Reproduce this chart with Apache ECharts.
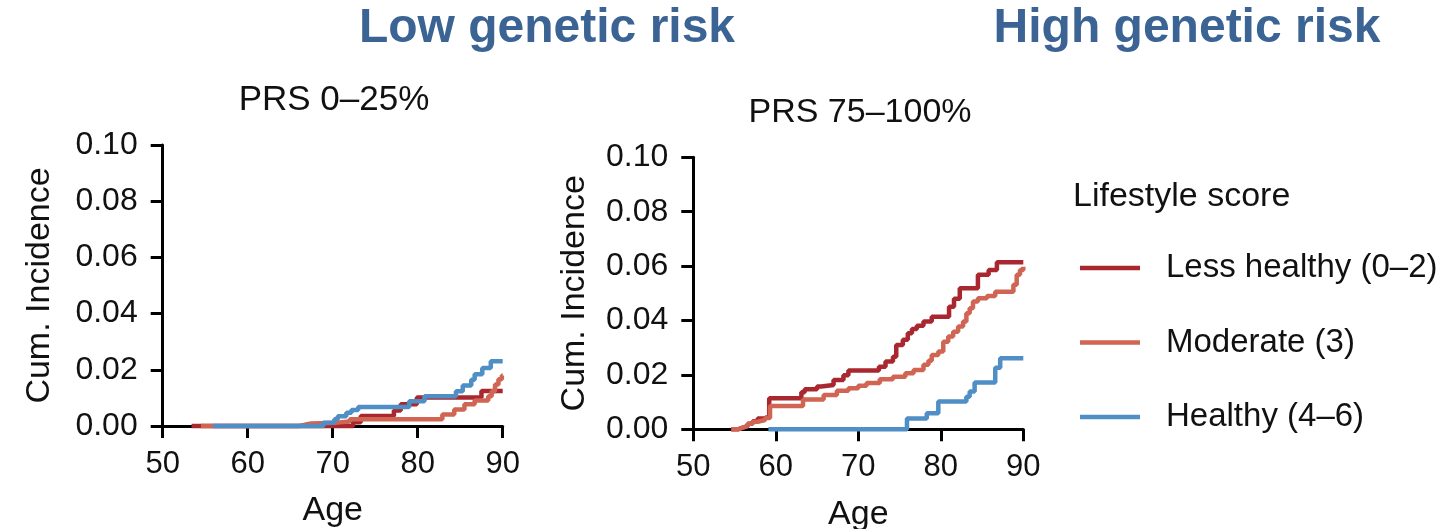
<!DOCTYPE html>
<html>
<head>
<meta charset="utf-8">
<script src="https://cdn.jsdelivr.net/npm/echarts@6/dist/echarts.min.js"></script>
<style>
  html, body { margin: 0; padding: 0; background: #ffffff; }
  #chart { width: 1450px; height: 529px; }
</style>
</head>
<body>
<div id="chart"></div>
<script>
// Lifestyle groups and panel labels
const groupNames = ['Less healthy (0–2)', 'Moderate (3)', 'Healthy (4–6)'];
const groupColors = ['#a9282f', '#cf6552', '#4f8fc6'];
const panelTitles = ['PRS 0–25%', 'PRS 75–100%'];
const riskTitles = ['Low genetic risk', 'High genetic risk'];
const legendTitle = 'Lifestyle score';

// Cumulative incidence by age, [age, incidence after the step]
// PRS 0–25%
const lowLessHealthy = [[53.4,0],[72.4,0.0013],[73.3,0.0036],[77.2,0.0055],[78.0,0.0077],[79.9,0.0101],[87.5,0.0125],[90,0.0125]];
const lowModerate = [[54.5,0],[66.0,0.0003],[66.5,0.0006],[67.0,0.0009],[67.5,0.0012],[70.5,0.0016],[72.0,0.0024],[82.9,0.0041],[84.3,0.0059],[85.5,0.0077],[86.7,0.0091],[88.3,0.0106],[88.7,0.0124],[89.1,0.0148],[89.5,0.0166],[89.9,0.0180],[90,0.0180]];
const lowHealthy = [[55.9,0],[68.9,0.0012],[70.2,0.0024],[70.6,0.0035],[71.6,0.0047],[72.2,0.0057],[73.0,0.0068],[79.0,0.0088],[80.8,0.0106],[84.5,0.0124],[85.3,0.0144],[86.3,0.0165],[86.7,0.0184],[87.6,0.0206],[88.6,0.0230],[90,0.0230]];
// PRS 75–100%
const highLessHealthy = [[54.6,0],[55.4,0.0006],[56.0,0.0012],[56.6,0.0020],[57.2,0.0030],[57.8,0.0040],[58.6,0.0047],[59.2,0.0114],[63.1,0.0136],[63.5,0.0147],[65.0,0.0157],[65.5,0.0163],[67.0,0.0181],[68.2,0.0199],[68.8,0.0216],[72.5,0.0230],[73.3,0.0249],[74.2,0.0267],[74.6,0.0310],[75.4,0.0329],[76.0,0.0353],[76.5,0.0369],[77.1,0.0381],[77.9,0.0396],[78.9,0.0414],[81.0,0.0451],[81.6,0.0480],[82.3,0.0519],[84.5,0.0568],[85.8,0.0586],[86.8,0.0614],[90,0.0614]];
const highModerate = [[54.6,0],[55.4,0.0006],[56.0,0.0012],[56.6,0.0020],[57.2,0.0028],[57.8,0.0034],[58.7,0.0042],[59.3,0.0086],[63.3,0.0110],[65.8,0.0126],[67.4,0.0142],[68.8,0.0151],[70.0,0.0160],[71.0,0.0170],[72.6,0.0184],[74.2,0.0193],[75.7,0.0206],[76.7,0.0218],[77.9,0.0237],[78.5,0.0252],[78.9,0.0273],[79.7,0.0286],[80.3,0.0322],[80.9,0.0341],[81.5,0.0359],[82.1,0.0378],[82.7,0.0396],[83.1,0.0427],[83.5,0.0445],[83.9,0.0470],[84.5,0.0482],[85.6,0.0490],[86.6,0.0506],[88.8,0.0531],[89.2,0.0568],[89.6,0.0586],[90,0.0598]];
const highHealthy = [[59.1,0],[75.9,0.0040],[78.3,0.0059],[79.7,0.0102],[83.1,0.0120],[83.5,0.0139],[84.1,0.0172],[86.6,0.0226],[87.2,0.0261],[90,0.0261]];

const panels = [
  [lowLessHealthy, lowModerate, lowHealthy],
  [highLessHealthy, highModerate, highHealthy]
];

const FONT = '"Liberation Sans", Arial, Helvetica, sans-serif';
const INK = '#111111';

function makeXAxis(gridIndex) {
  return {
    type: 'value', gridIndex: gridIndex,
    min: 50, max: 90, interval: 10,
    name: 'Age', nameLocation: 'middle', nameGap: 68,
    nameTextStyle: { fontSize: 34, color: INK, fontFamily: FONT },
    axisLine: { show: true, onZero: false, lineStyle: { color: '#000', width: 3 } },
    axisTick: { show: true, length: 12, lineStyle: { color: '#000', width: 3 } },
    axisLabel: { fontSize: 31, color: INK, margin: 23, fontFamily: FONT },
    splitLine: { show: false }
  };
}

function makeYAxis(gridIndex, gap) {
  return {
    type: 'value', gridIndex: gridIndex,
    min: 0, max: 0.1, interval: 0.02,
    name: 'Cum. Incidence', nameLocation: 'middle', nameGap: gap,
    nameTextStyle: { fontSize: 34, color: INK, fontFamily: FONT },
    axisLine: { show: true, lineStyle: { color: '#000', width: 3 } },
    axisTick: { show: true, length: 12, lineStyle: { color: '#000', width: 3 } },
    axisLabel: { fontSize: 32, color: INK, margin: 25, fontFamily: FONT,
      formatter: function (v) { return v.toFixed(2); } },
    splitLine: { show: false }
  };
}

const series = [];
panels.forEach(function (curves, p) {
  curves.forEach(function (data, g) {
    series.push({
      type: 'line', name: groupNames[g],
      xAxisIndex: p, yAxisIndex: p,
      data: data, step: 'end',
      showSymbol: false, symbol: 'none', clip: false,
      color: groupColors[g],
      lineStyle: { width: 4.5, color: groupColors[g] },
      z: 3 + g, animation: false
    });
  });
});

const chart = echarts.init(document.getElementById('chart'), null, { renderer: 'canvas' });
chart.setOption({
  backgroundColor: '#ffffff',
  animation: false,
  textStyle: { fontFamily: FONT },
  grid: [
    { left: 162.7, top: 145, width: 340, height: 281, containLabel: false, outerBoundsMode: 'none' },
    { left: 693.3, top: 157.3, width: 330, height: 272, containLabel: false, outerBoundsMode: 'none' }
  ],
  xAxis: [makeXAxis(0), makeXAxis(1)],
  yAxis: [makeYAxis(0, 106), makeYAxis(1, 102)],
  legend: {
    orient: 'vertical', left: 1080, top: 251, padding: 0,
    itemWidth: 60, itemHeight: 4.5, itemGap: 40.5, icon: 'rect',
    selectedMode: false,
    data: groupNames,
    textStyle: { fontSize: 33, color: INK, fontFamily: FONT, lineHeight: 34, padding: [0, 0, 0, 21] }
  },
  graphic: [
    { type: 'text', style: { text: riskTitles[0], x: 547, y: 29, align: 'center', verticalAlign: 'middle',
      fontSize: 48, fontWeight: 'bold', fill: '#3b6394', fontFamily: FONT } },
    { type: 'text', style: { text: riskTitles[1], x: 1187, y: 29, align: 'center', verticalAlign: 'middle',
      fontSize: 48, fontWeight: 'bold', fill: '#3b6394', fontFamily: FONT } },
    { type: 'text', style: { text: panelTitles[0], x: 334, y: 100, align: 'center', verticalAlign: 'middle',
      fontSize: 35, fill: INK, fontFamily: FONT } },
    { type: 'text', style: { text: panelTitles[1], x: 860, y: 113, align: 'center', verticalAlign: 'middle',
      fontSize: 34, fill: INK, fontFamily: FONT } },
    { type: 'text', style: { text: legendTitle, x: 1073, y: 197, align: 'left', verticalAlign: 'middle',
      fontSize: 34, fill: INK, fontFamily: FONT } }
  ],
  series: series
});
</script>
</body>
</html>
